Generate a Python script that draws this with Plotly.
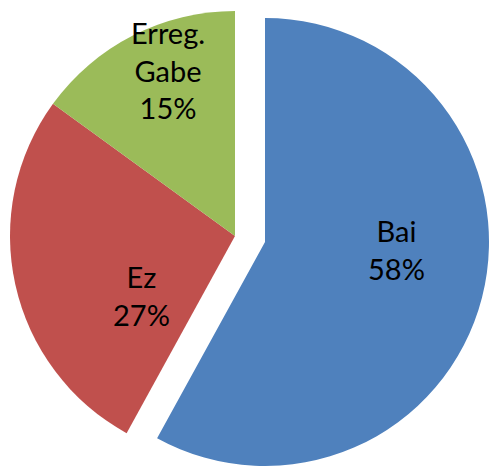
import plotly.graph_objects as go

# ── data ──────────────────────────────────────────────────────────────
labels = ["Bai", "Ez", "Erreg.<br>Gabe"]
values = [58, 27, 15]
colors = ["#4F81BD", "#C0504D", "#9BBB59"]

# label anchor points (pixels) – Excel "best fit" placement
label_pos = [(396, 249), (141, 295), (168, 70)]

W, H = 489, 466
CLEAR = "rgba(0,0,0,0)"
FONT = dict(family="Lato, 'Open Sans', sans-serif", size=29, color="black")


def dom(cx, cy, r):
    """pie domain (paper fractions) for a pixel centre and radius"""
    return dict(x=[max(0, (cx - r) / W), min(1, (cx + r) / W)],
                y=[max(0, 1 - (cy + r) / H), min(1, 1 - (cy - r) / H)])


fig = go.Figure()

# red + green slices (blue kept as invisible placeholder)
fig.add_trace(go.Pie(
    labels=labels, values=values, sort=False, direction="clockwise", rotation=0,
    marker=dict(colors=[CLEAR, colors[1], colors[2]], line=dict(width=0)),
    textinfo="none", domain=dom(235, 236, 225),
    hoverinfo="skip", showlegend=False,
))

# exploded blue slice
fig.add_trace(go.Pie(
    labels=labels, values=values, sort=False, direction="clockwise", rotation=0,
    marker=dict(colors=[colors[0], CLEAR, CLEAR], line=dict(width=0)),
    textinfo="none", domain=dom(265, 242, 224),
    hoverinfo="skip", showlegend=False,
))

total = sum(values)
for lab, v, (px, py) in zip(labels, values, label_pos):
    fig.add_annotation(
        text=f"{lab}<br>{round(100 * v / total)}%",
        x=px / W, y=1 - py / H, xref="paper", yref="paper",
        xanchor="center", yanchor="middle", showarrow=False, font=FONT,
    )

fig.update_layout(
    width=W, height=H,
    margin=dict(l=0, r=0, t=0, b=0),
    paper_bgcolor="white",
    plot_bgcolor="white",
)

# drop the default 8px page margin so the chart sits at the window corner
fig.write_html("out.html",
               config=dict(displayModeBar=False),
               post_script="document.body.style.margin='0';"
                           "document.body.style.overflow='hidden';")
